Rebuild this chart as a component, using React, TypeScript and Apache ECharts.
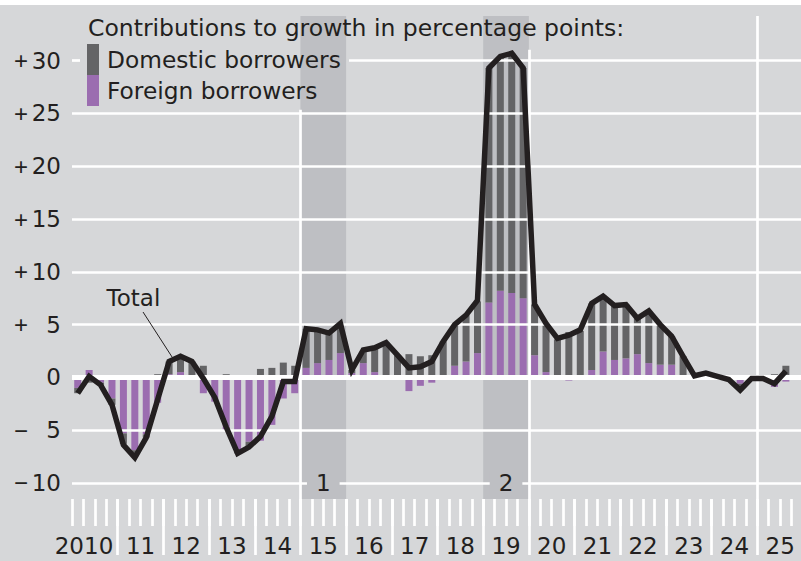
import React, { useEffect, useRef } from 'react';
import * as echarts from 'echarts';

const yearLabels = ['2010', '11', '12', '13', '14', '15', '16', '17', '18', '19', '20', '21', '22', '23', '24', '25'];
const quarterNames = ['Q1', 'Q2', 'Q3', 'Q4'];
const categories = yearLabels.flatMap((y) => quarterNames.map((q) => `${y} ${q}`));

// Contributions to growth, percentage points (2010 Q1 – 2025 Q3)
const domestic = [
  -0.5, -0.5, -0.2, -0.6, -1.0, -0.6, -0.3, 0.3, 1.2, 1.5, 1.5, 1.1, 0.2, 0.3, -0.3, -0.5,
  0.8, 0.9, 1.4, 1.1, 3.7, 3.2, 2.6, 2.8, 0.3, 1.1, 2.3, 3.2, 2.1, 2.2, 2.0, 2.1,
  3.3, 3.8, 4.4, 4.9, 22.2, 22.2, 22.7, 21.8, 4.8, 4.6, 3.6, 4.3, 4.4, 6.3, 5.2, 5.1,
  5.1, 3.4, 4.9, 3.8, 2.7, 2.0, 0.15, 0.4, 0.1, -0.1, -0.5, 0.0, 0.0, 0.3, 1.1,
];
const foreign = [
  -1.0, 0.7, -0.5, -2.0, -5.3, -6.9, -5.4, -2.4, 0.3, 0.5, -0.2, -1.5, -2.3, -5.0, -6.9, -6.1,
  -6.0, -4.5, -2.0, -1.5, 0.9, 1.35, 1.65, 2.3, 0.4, 1.35, 0.5, 0.1, 0.0, -1.3, -0.8, -0.5,
  0.1, 1.1, 1.5, 2.3, 7.1, 8.2, 8.0, 7.5, 2.1, 0.5, 0.0, -0.3, 0.0, 0.7, 2.45, 1.65,
  1.8, 2.2, 1.35, 1.2, 1.2, 0.0, 0.0, 0.0, 0.0, -0.1, -0.6, -0.1, -0.1, -0.9, -0.4,
];
const total = [
  -1.5, 0.1, -0.7, -2.6, -6.4, -7.6, -5.7, -2.1, 1.5, 2.0, 1.5, -0.1, -1.9, -4.7, -7.2, -6.6,
  -5.6, -3.7, -0.4, -0.4, 4.6, 4.5, 4.2, 5.1, 0.7, 2.6, 2.8, 3.3, 2.1, 0.9, 1.0, 1.5,
  3.4, 5.0, 5.9, 7.3, 29.3, 30.4, 30.7, 29.3, 6.9, 5.1, 3.7, 4.0, 4.5, 7.0, 7.7, 6.8,
  6.9, 5.6, 6.3, 5.0, 3.9, 2.0, 0.15, 0.4, 0.1, -0.2, -1.2, -0.1, -0.1, -0.6, 0.6,
];

const yTicks = [-10, -5, 0, 5, 10, 15, 20, 25, 30];
// shaded periods, in quarters from 2010 Q1
const shaded = [
  { label: '1', from: 20, to: 24 },
  { label: '2', from: 36, to: 40 },
];
const Y_MIN = -11.52;
const Y_MAX = 34.23;
const N_Q = 64;

const FONT = 'DejaVu Sans';
const SIGN_FONT = 'Liberation Sans';
const TEXT = '#231f20';
const DARK = '#646466';
const PURPLE = '#9b6db0';
const SHADE = '#bebfc3';
const WHITE = '#ffffff';

function yLabel(v: number) {
  if (v === 0) return '{n|0}';
  return (v > 0 ? '{s|+}' : '{s|\u2212}') + '{n|' + Math.abs(v) + '}';
}

export default function App() {
  const ref = useRef<HTMLDivElement>(null);
  useEffect(() => {
    const chart = echarts.init(ref.current as HTMLDivElement, null, { renderer: 'svg' });
    const yearTicks = yearLabels.map((_, i) => i * 4).filter((v) => v > 0);
    // first label ("2010") sits left of centre, as in the original
    const yearCenters = yearLabels.map((_, i) => (i === 0 ? 1.05 : i * 4 + 2));

    const gridLines: any[] = yTicks
      .filter((v) => v !== 30)
      .map((v) => ({ yAxis: v, lineStyle: { width: v === 0 ? 5 : 2.7 } }));
    gridLines.push([{ coord: [0, 30] }, { coord: [0.7, 30] }]);
    gridLines.push([{ coord: [24.25, 30] }, { coord: [N_Q, 30] }]);
    gridLines.push([{ coord: [20, Y_MIN] }, { coord: [20, 25.36] }]);
    gridLines.push([{ coord: [40, Y_MIN] }, { coord: [40, 31.04] }]);
    gridLines.push([{ coord: [60, Y_MIN] }, { coord: [60, Y_MAX] }]);
    gridLines.push([
      { coord: [6.22, 6.19], lineStyle: { color: TEXT, width: 1 } },
      { coord: [8.76, 1.93] },
    ]);

    const option: any = {
      animation: false,
      textStyle: { fontFamily: FONT },
      grid: { left: 72, top: 16, width: 731, height: 483, containLabel: false, outerBoundsMode: 'none' },
      legend: {
        data: ['Domestic borrowers', 'Foreign borrowers'],
        orient: 'vertical',
        left: 87,
        top: 44,
        padding: 0,
        itemGap: 0,
        itemWidth: 12,
        itemHeight: 31,
        icon: 'rect',
        selectedMode: false,
        textStyle: { fontFamily: FONT, fontSize: 23.3, color: TEXT, padding: [0, 0, 0, 3] },
      },
      graphic: [
        {
          type: 'text',
          x: 88,
          y: 28,
          z: 20,
          style: {
            text: 'Contributions to growth in percentage points:',
            fontFamily: FONT,
            fontSize: 23.5,
            fill: TEXT,
            verticalAlign: 'middle',
          },
        },
      ],
      xAxis: [
        {
          type: 'category',
          data: categories,
          axisLine: { show: false, onZero: false },
          axisTick: { show: false },
          axisLabel: { show: false },
          splitLine: { show: false },
        },
        {
          type: 'value',
          min: 0,
          max: N_Q,
          interval: 1,
          position: 'bottom',
          axisLine: { show: false, onZero: false },
          axisTick: { show: true, length: 27, lineStyle: { color: WHITE, width: 2.7 } },
          axisLabel: { show: false },
          splitLine: { show: false },
        },
        {
          type: 'value',
          min: 0,
          max: N_Q,
          position: 'bottom',
          axisLine: { show: false, onZero: false },
          axisTick: { show: true, length: 56, customValues: yearTicks, lineStyle: { color: WHITE, width: 2.7 } },
          axisLabel: {
            show: true,
            customValues: yearCenters,
            formatter: (v: number) => yearLabels[Math.max(0, Math.round((v - 2) / 4))],
            fontFamily: FONT,
            fontSize: 23,
            color: TEXT,
            margin: 47,
            verticalAlign: 'middle',
          },
          splitLine: { show: false },
        },
      ],
      yAxis: {
        type: 'value',
        min: Y_MIN,
        max: Y_MAX,
        axisLine: { show: false },
        axisTick: { show: false },
        splitLine: { show: false },
        axisLabel: {
          customValues: yTicks,
          margin: 11,
          formatter: yLabel,
          fontFamily: FONT,
          fontSize: 23,
          color: TEXT,
          rich: {
            s: { width: 12, align: 'left', fontFamily: SIGN_FONT, fontSize: 24, color: TEXT },
            n: { width: 35, align: 'right', fontFamily: FONT, fontSize: 23, color: TEXT },
          },
        },
      },
      series: [
        {
          name: 'Foreign borrowers',
          type: 'bar',
          stack: 'borrowers',
          data: foreign,
          barWidth: 7,
          z: 2,
          silent: true,
          itemStyle: { color: PURPLE },
        },
        {
          name: 'Domestic borrowers',
          type: 'bar',
          stack: 'borrowers',
          data: domestic,
          barWidth: 7,
          z: 2,
          silent: true,
          itemStyle: { color: DARK },
        },
        {
          name: 'annotations',
          type: 'line',
          xAxisIndex: 1,
          data: [],
          silent: true,
          markArea: {
            z: 1,
            silent: true,
            itemStyle: { color: SHADE },
            label: { show: false },
            data: shaded.map((s) => [{ xAxis: s.from }, { xAxis: s.to }]),
          },
          markLine: {
            z: 5,
            silent: true,
            symbol: ['none', 'none'],
            label: { show: false },
            lineStyle: { type: 'solid', color: WHITE, width: 2.7 },
            emphasis: { disabled: true },
            data: gridLines,
          },
          markPoint: {
            z: 12,
            silent: true,
            symbolSize: 0,
            data: [
              ...shaded.map((s) => ({
                coord: [(s.from + s.to) / 2, -10],
                label: {
                  show: true,
                  formatter: s.label,
                  fontFamily: FONT,
                  fontSize: 23,
                  color: TEXT,
                  backgroundColor: SHADE,
                  padding: [0, 9],
                },
              })),
              {
                coord: [5.38, 7.52],
                label: { show: true, formatter: 'Total', fontFamily: FONT, fontSize: 23, color: TEXT },
              },
            ],
          },
        },
        {
          name: 'Total',
          type: 'line',
          data: total,
          z: 10,
          silent: true,
          symbol: 'none',
          lineStyle: { color: TEXT, width: 5.5, join: 'miter' },
        },
      ],
    };
    chart.setOption(option);
    return () => chart.dispose();
  }, []);
  return (
    <div
      ref={ref}
      style={{
        position: 'fixed',
        left: 0,
        top: 0,
        width: 801,
        height: 561,
        background: 'linear-gradient(to bottom, #ffffff 0px, #ffffff 5px, #d6d7d9 5px)',
      }}
    />
  );
}
